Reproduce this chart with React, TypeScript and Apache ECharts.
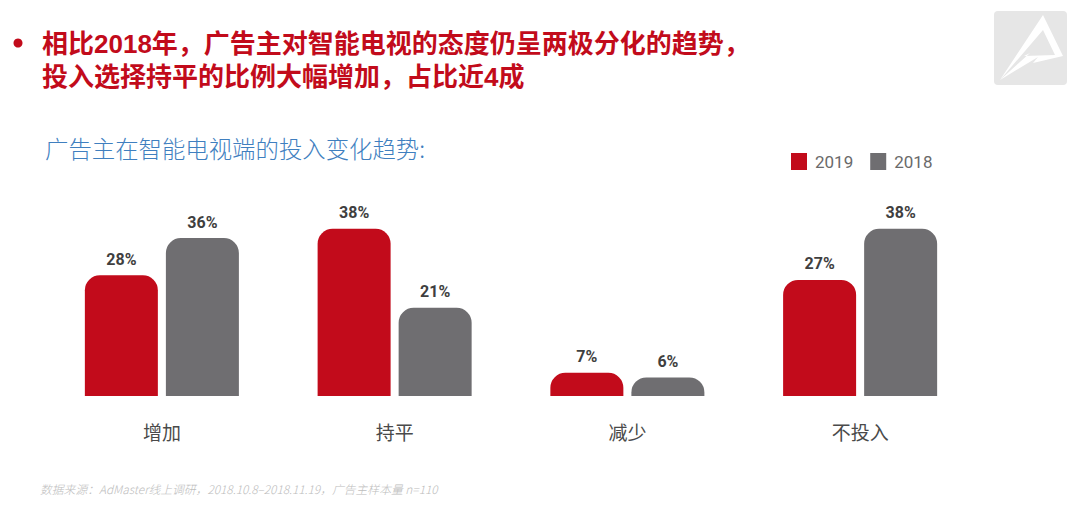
import React, { useEffect, useRef } from "react";
import * as echarts from "echarts";

const categories = ["增加", "持平", "减少", "不投入"];
const series2019 = [28, 38, 7, 27];
const series2018 = [36, 21, 6, 38];
const seriesNames = ["2019", "2018"];

const titleLine1 = "相比2018年，广告主对智能电视的态度仍呈两极分化的趋势，";
const titleLine2 = "投入选择持平的比例大幅增加，占比近4成";
const subtitle = "广告主在智能电视端的投入变化趋势:";
const footnote = "数据来源：AdMaster线上调研，2018.10.8–2018.11.19，广告主样本量 n=110";

const RED = "#c20b1b";
const GRAY = "#6f6e71";
const FONT = "'Noto Sans CJK SC', 'Noto Sans', sans-serif";
const TITLE_FONT = "'Liberation Sans', 'Noto Sans CJK SC', sans-serif";

export default function App() {
  const ref = useRef<HTMLDivElement>(null);
  useEffect(() => {
    if (!ref.current) return;
    const chart = echarts.init(ref.current, null, { renderer: "svg" });
    const label = {
      show: true,
      position: "top",
      distance: 8,
      formatter: "{c}%",
      color: "#3f3f3f",
      fontWeight: "bold",
      fontSize: 16,
      fontFamily: "Roboto, 'Noto Sans', sans-serif",
    };
    chart.setOption({
      animation: false,
      backgroundColor: "#ffffff",
      textStyle: { fontFamily: FONT },
      grid: { left: 45.5, right: 103.5, top: 219.5, bottom: 127, containLabel: false },
      legend: {
        data: seriesNames,
        left: 786,
        top: 148,
        icon: "rect",
        itemWidth: 16,
        itemHeight: 17,
        itemGap: 17,
        textStyle: { color: "#6a6a6a", fontSize: 17, fontFamily: "Roboto, sans-serif", padding: [0, 0, 0, 3] },
      },
      xAxis: {
        type: "category",
        data: categories,
        axisLine: { show: false },
        axisTick: { show: false },
        axisLabel: { color: "#4a4a4a", fontSize: 19, margin: 26, fontFamily: FONT },
      },
      yAxis: {
        type: "value",
        min: 2,
        max: 40,
        show: false,
        splitLine: { show: false },
      },
      series: [
        {
          name: seriesNames[0],
          type: "bar",
          data: series2019,
          barWidth: 73,
          barGap: "11%",
          itemStyle: { color: RED, borderRadius: [15, 15, 0, 0] },
          label,
        },
        {
          name: seriesNames[1],
          type: "bar",
          data: series2018,
          barWidth: 73,
          itemStyle: { color: GRAY, borderRadius: [15, 15, 0, 0] },
          label,
        },
      ],
      graphic: [
        {
          type: "circle",
          shape: { cx: 18, cy: 43, r: 4.5 },
          style: { fill: RED },
        },
        {
          type: "text",
          x: 42,
          y: 43.5,
          style: {
            text: titleLine1,
            fill: RED,
            font: `bold 26px ${TITLE_FONT}`,
            textVerticalAlign: "middle",
          },
        },
        {
          type: "text",
          x: 42,
          y: 77,
          style: {
            text: titleLine2,
            fill: RED,
            font: `bold 26px ${TITLE_FONT}`,
            textVerticalAlign: "middle",
          },
        },
        {
          type: "text",
          x: 45,
          y: 148,
          style: {
            text: subtitle,
            fill: "#3f7fbf",
            font: `300 23.4px ${FONT}`,
            textVerticalAlign: "middle",
          },
        },
        {
          type: "text",
          x: 40,
          y: 488,
          style: {
            text: footnote,
            fill: "#bdbdbd",
            font: `italic 300 11.8px ${FONT}`,
            textVerticalAlign: "middle",
          },
        },
        {
          type: "rect",
          shape: { x: 994, y: 11, width: 73, height: 74, r: 4 },
          style: { fill: "#e6e6e6" },
        },
        {
          type: "polygon",
          shape: {
            points: [
              [1043, 15],
              [1063, 56],
              [1033, 63],
              [1038, 57],
              [1000, 80],
              [1030, 53],
              [1024, 56],
              [1055, 55],
              [1043, 30],
              [1000, 80],
            ],
          },
          style: { fill: "#ffffff" },
        },
      ],
    });
    return () => chart.dispose();
  }, []);
  return (
    <div
      ref={ref}
      style={{ position: "fixed", left: 0, top: 0, width: 1080, height: 523, background: "#fff" }}
    />
  );
}
